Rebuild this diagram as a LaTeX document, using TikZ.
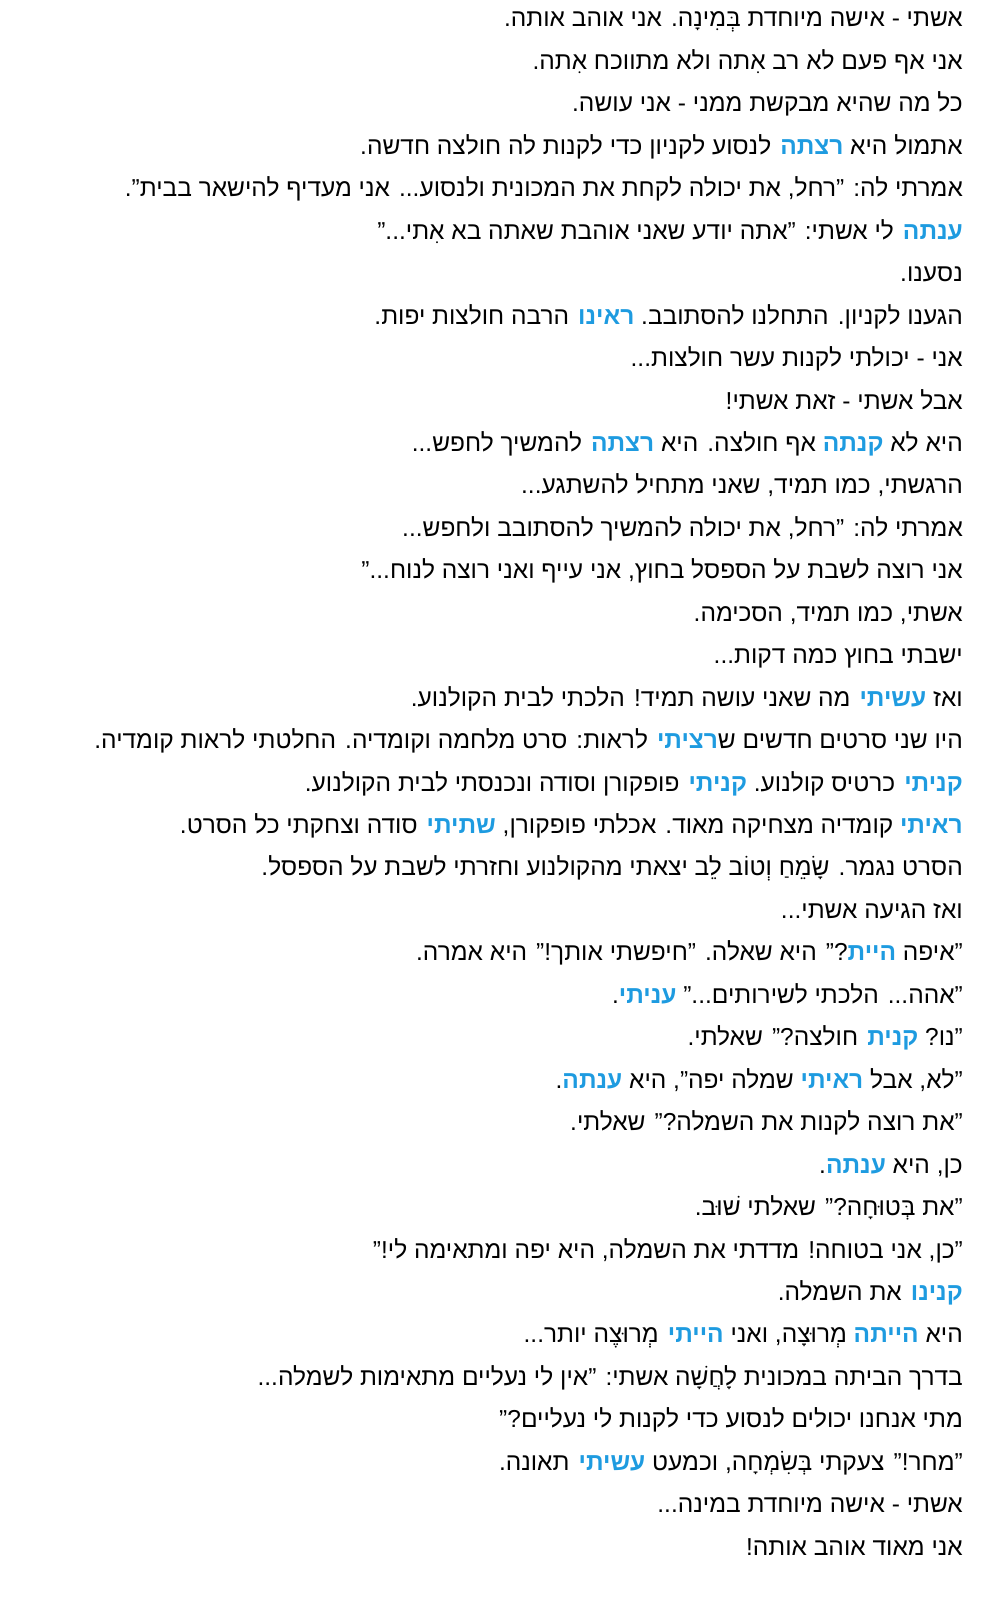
\documentclass[tikz,border=0pt]{standalone}
\usepackage{fontspec}
\setmainfont[Script=Hebrew]{Liberation Sans}
\TeXXeTstate=1
\definecolor{hlblue}{HTML}{1E9BE0}
\newcommand\R[1]{\beginR #1\endR}
\newcommand\B[1]{\textcolor{hlblue}{\bfseries\beginR #1\endR}}
\begin{document}
\begin{tikzpicture}[x=1pt,y=1pt,line/.style={anchor=base east,inner sep=0pt,font=\fontsize{24.5}{24.5}\selectfont}]
\useasboundingbox (0,0) rectangle (992,1613);
\def\L#1#2{\node[line] (l#1) at (963,{1613-27-42.45*(#1-1)}) {#2};}
\L{1}{\R{אשתי - אישה מיוחדת בְּמִינָה. אני אוהב אותה.}}
\L{2}{\R{אני אף פעם לא רב אִתה ולא מתווכח אִתה.}}
\L{3}{\R{כל מה שהיא מבקשת ממני - אני עושה.}}
\L{4}{\R{לנסוע לקניון כדי לקנות לה חולצה חדשה.} \B{רצתה} \R{אתמול היא}}
\L{5}{\R{אמרתי לה: ”רחל, את יכולה לקחת את המכונית ולנסוע... אני מעדיף להישאר בבית”.}}
\L{6}{\R{לי אשתי: ”אתה יודע שאני אוהבת שאתה בא אִתי...”} \B{ענתה}}
\L{7}{\R{נסענו.}}
\L{8}{\R{הרבה חולצות יפות.} \B{ראינו} \R{הגענו לקניון. התחלנו להסתובב.}}
\L{9}{\R{אני - יכולתי לקנות עשר חולצות...}}
\L{10}{\R{אבל אשתי - זאת אשתי!}}
\L{11}{\R{להמשיך לחפש...} \B{רצתה} \R{אף חולצה. היא} \B{קנתה} \R{היא לא}}
\L{12}{\R{הרגשתי, כמו תמיד, שאני מתחיל להשתגע...}}
\L{13}{\R{אמרתי לה: ”רחל, את יכולה להמשיך להסתובב ולחפש...}}
\L{14}{\R{אני רוצה לשבת על הספסל בחוץ, אני עייף ואני רוצה לנוח...”}}
\L{15}{\R{אשתי, כמו תמיד, הסכימה.}}
\L{16}{\R{ישבתי בחוץ כמה דקות...}}
\L{17}{\R{מה שאני עושה תמיד! הלכתי לבית הקולנוע.} \B{עשיתי} \R{ואז}}
\L{18}{\R{לראות: סרט מלחמה וקומדיה. החלטתי לראות קומדיה.} \B{רציתי}\R{היו שני סרטים חדשים ש}}
\L{19}{\R{פופקורן וסודה ונכנסתי לבית הקולנוע.} \B{קניתי} \R{כרטיס קולנוע.} \B{קניתי}}
\L{20}{\R{סודה וצחקתי כל הסרט.} \B{שתיתי} \R{קומדיה מצחיקה מאוד. אכלתי פופקורן,} \B{ראיתי}}
\L{21}{\R{הסרט נגמר. שָׂמֵחַ וְטוֹב לֵב יצאתי מהקולנוע וחזרתי לשבת על הספסל.}}
\L{22}{\R{ואז הגיעה אשתי...}}
\L{23}{\R{?” היא שאלה. ”חיפשתי אותך!” היא אמרה.}\B{היית} \R{”איפה}}
\L{24}{\R{.}\B{עניתי} \R{”אהה... הלכתי לשירותים...”}}
\L{25}{\R{חולצה?” שאלתי.} \B{קנית} \R{”נו?}}
\L{26}{\R{.}\B{ענתה} \R{שמלה יפה”, היא} \B{ראיתי} \R{”לא, אבל}}
\L{27}{\R{”את רוצה לקנות את השמלה?” שאלתי.}}
\L{28}{\R{.}\B{ענתה} \R{כן, היא}}
\L{29}{\R{”את בְּטוּחָה?” שאלתי שׁוּב.}}
\L{30}{\R{”כן, אני בטוחה! מדדתי את השמלה, היא יפה ומתאימה לי!”}}
\L{31}{\R{את השמלה.} \B{קנינו}}
\L{32}{\R{מְרוּצֶה יותר...} \B{הייתי} \R{מְרוּצָה, ואני} \B{הייתה} \R{היא}}
\L{33}{\R{בדרך הביתה במכונית לָחֲשָׁה אשתי: ”אין לי נעליים מתאימות לשמלה...}}
\L{34}{\R{מתי אנחנו יכולים לנסוע כדי לקנות לי נעליים?”}}
\L{35}{\R{תאונה.} \B{עשיתי} \R{”מחר!” צעקתי בְּשִׂמְחָה, וכמעט}}
\L{36}{\R{אשתי - אישה מיוחדת במינה...}}
\L{37}{\R{אני מאוד אוהב אותה!}}
\end{tikzpicture}
\end{document}
